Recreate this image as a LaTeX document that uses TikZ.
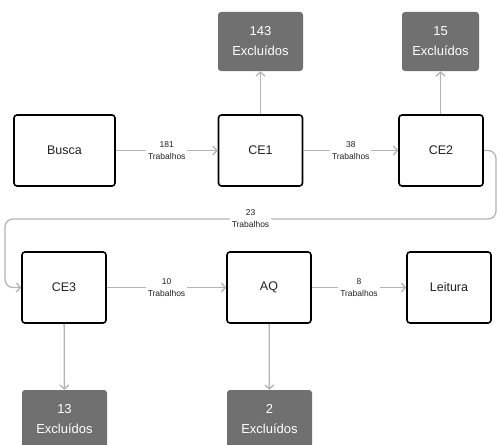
\documentclass[tikz,border=0pt]{standalone}
\usepackage{fontspec}
\setmainfont{Liberation Sans}
\usetikzlibrary{arrows.meta}
\definecolor{boxgray}{HTML}{707070}
\definecolor{linegray}{HTML}{B4B4B4}
\definecolor{txtdark}{HTML}{222222}

\begin{document}
\begin{tikzpicture}[x=1pt,y=-1pt,
    block_center/.style ={rectangle, draw=black, line width=1.6pt, fill=white,
      rounded corners=3pt, minimum width=84pt, minimum height=71pt,
      text=txtdark, font=\fontsize{12.5}{14}\selectfont},
    block_out/.style ={rectangle, fill=boxgray, rounded corners=3pt,
      minimum width=85pt, minimum height=59pt, text=white, align=center,
      font=\fontsize{13}{20}\selectfont},
    count/.style ={fill=white, align=center, inner sep=2pt,
      text=txtdark, font=\fontsize{8.5}{12}\selectfont},
    line/.style ={draw=linegray, line width=1.3pt,
      -{Straight Barb[length=4pt,width=9pt]}}]
    \clip (0,0) rectangle (497,444);
    % first row
    \node [block_center, minimum width=101pt] (busca) at (64.5,150.5) {Busca};
    \node [block_center] (ce1) at (260.5,150.5) {CE1};
    \node [block_center] (ce2) at (441,150.5) {CE2};
    % excluded - top
    \node [block_out] (out1) at (260.5,41.5) {143\\Excluídos};
    \node [block_out, minimum width=77pt] (out2) at (440.5,41.5) {15\\Excluídos};
    % second row
    \node [block_center] (ce3) at (64,287.5) {CE3};
    \node [block_center] (aq) at (269,287.5) {AQ};
    \node [block_center] (leitura) at (449,287.5) {Leitura};
    % excluded - bottom
    \node [block_out] (out3) at (64.5,419.5) {13\\Excluídos};
    \node [block_out] (out4) at (269.5,419.5) {2\\Excluídos};
    % connecting nodes
    \draw [line] (busca) -- node[count] {181\\Trabalhos} (ce1);
    \draw [line] (ce1) -- node[count] {38\\Trabalhos} (ce2);
    \draw [line] (ce1) -- (out1);
    \draw [line] (ce2.north -| out2) -- (out2);
    \draw [line, rounded corners=8pt] (ce2.east) -- (496,150.5) -- (496,219)
      -- node[count] {23\\Trabalhos} (5,219) -- (5,287.5) -- (ce3.west);
    \draw [line] (ce3) -- node[count] {10\\Trabalhos} (aq);
    \draw [line] (aq) -- node[count] {8\\Trabalhos} (leitura);
    \draw [line] (ce3) -- (out3);
    \draw [line] (aq) -- (out4);
\end{tikzpicture}
\end{document}
